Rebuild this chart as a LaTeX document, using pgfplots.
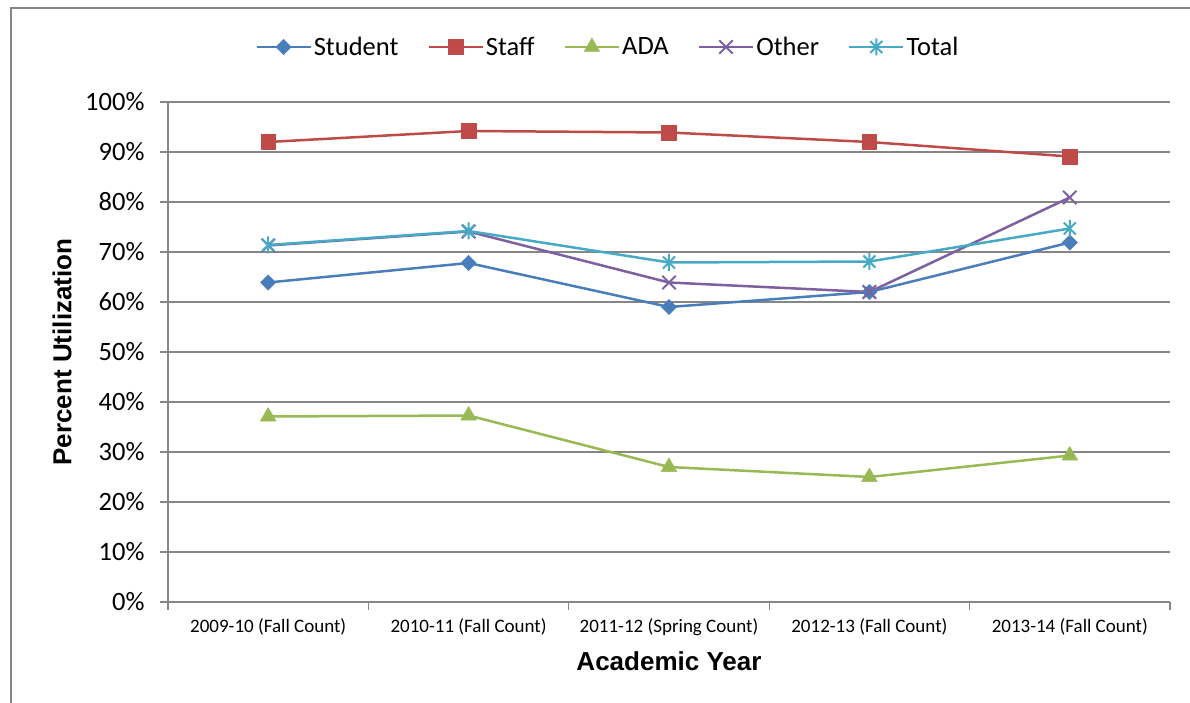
\documentclass[border=0pt]{standalone}
\usepackage{pgfplots}
\pgfplotsset{compat=1.18}
\usepackage{fontspec}
\setmainfont{Carlito}
\newfontfamily\arialfont{Liberation Sans}
\usetikzlibrary{plotmarks}

\definecolor{cStudent}{HTML}{4A7EBB}
\definecolor{cStaff}{HTML}{BE4B48}
\definecolor{cADA}{HTML}{98B954}
\definecolor{cOther}{HTML}{7D60A0}
\definecolor{cTotal}{HTML}{46AAC5}
\definecolor{gridgray}{HTML}{868686}

\pgfdeclareplotmark{xstar}{%
 \pgfpathmoveto{\pgfqpoint{0pt}{-\pgfplotmarksize}}\pgfpathlineto{\pgfqpoint{0pt}{\pgfplotmarksize}}%
 \pgfpathmoveto{\pgfqpoint{-.7071\pgfplotmarksize}{-.7071\pgfplotmarksize}}\pgfpathlineto{\pgfqpoint{.7071\pgfplotmarksize}{.7071\pgfplotmarksize}}%
 \pgfpathmoveto{\pgfqpoint{-.7071\pgfplotmarksize}{.7071\pgfplotmarksize}}\pgfpathlineto{\pgfqpoint{.7071\pgfplotmarksize}{-.7071\pgfplotmarksize}}%
 \pgfusepathqstroke}

\begin{document}
\begin{tikzpicture}
\begin{axis}[
  at={(168pt,100pt)}, anchor=south west,
  scale only axis, width=1002pt, height=500pt,
  xmin=-0.5, xmax=4.5, ymin=0, ymax=100,
  clip=false,
  axis lines*=left,
  axis line style={draw=gridgray, line width=1.3pt},
  ytick={0,10,...,100},
  yticklabel={\pgfmathparse{int(\tick)}\pgfmathresult\%},
  yticklabel style={font=\fontsize{26.5}{30}\selectfont, anchor=east, xshift=-12pt},
  ymajorgrids,
  grid style={draw=gridgray, line width=1.3pt},
  xtick={0,1,2,3,4},
  xticklabels={2009-10 (Fall Count),2010-11 (Fall Count),2011-12 (Spring Count),2012-13 (Fall Count),2013-14 (Fall Count)},
  xticklabel style={font=\fontsize{19}{22}\selectfont, yshift=-5pt},
  x tick style={draw=none},
  minor xtick={-0.5,0.5,...,4.5},
  minor x tick style={draw=gridgray, line width=1.3pt},
  minor tick length=8pt,
  major tick length=8pt,
  tick align=outside,
  y tick style={draw=gridgray, line width=1.3pt},
  xlabel={\arialfont\bfseries Academic Year},
  ylabel={\arialfont\bfseries Percent Utilization},
  every axis x label/.style={at={(rel axis cs:0.5,-0.118)}, anchor=center, font=\fontsize{26}{30}\selectfont},
  every axis y label/.style={at={(rel axis cs:-0.1058,0.5)}, anchor=center, rotate=90, font=\fontsize{26}{30}\selectfont},
  legend columns=-1,
  legend style={at={(rel axis cs:0.439,1.11)}, anchor=center, draw=none, fill=none,
    font=\fontsize{26.5}{30}\selectfont,
    /tikz/every even column/.append style={column sep=27pt}},
  legend image code/.code={\draw[mark repeat=2,mark phase=2,#1] plot coordinates {(0pt,0pt) (27pt,0pt) (54pt,0pt)};},
  every axis plot/.append style={line width=2.5pt, line join=round},
]
\addplot[color=cStudent, mark=square*, mark size=5.4pt, mark options={rotate=45, line width=0.5pt, fill=cStudent}]
  coordinates {(0,63.9) (1,67.8) (2,59.0) (3,62.0) (4,71.9)};
\addlegendentry{Student}
\addplot[color=cStaff, mark=square*, mark size=7.3pt, mark options={line width=0.5pt, fill=cStaff}]
  coordinates {(0,92.0) (1,94.2) (2,93.9) (3,92.0) (4,89.1)};
\addlegendentry{Staff}
\addplot[color=cADA, mark=triangle*, mark size=9pt, mark options={line width=0.5pt, fill=cADA}]
  coordinates {(0,37.1) (1,37.3) (2,27.0) (3,25.0) (4,29.3)};
\addlegendentry{ADA}
\addplot[color=cOther, mark=x, mark size=9.5pt, mark options={line width=2pt}]
  coordinates {(0,71.3) (1,74.1) (2,63.9) (3,62.0) (4,80.9)};
\addlegendentry{Other}
\addplot[color=cTotal, mark=xstar, mark size=8.5pt, mark options={line width=2pt}]
  coordinates {(0,71.4) (1,74.2) (2,67.9) (3,68.1) (4,74.7)};
\addlegendentry{Total}
\end{axis}
\draw[draw=gridgray, line width=1.5pt] (11pt,-20pt) -- (11pt,694pt) -- (1220pt,694pt);
\pgfresetboundingbox
\useasboundingbox (0,0) rectangle (1190pt,702pt);
\end{tikzpicture}
\end{document}
